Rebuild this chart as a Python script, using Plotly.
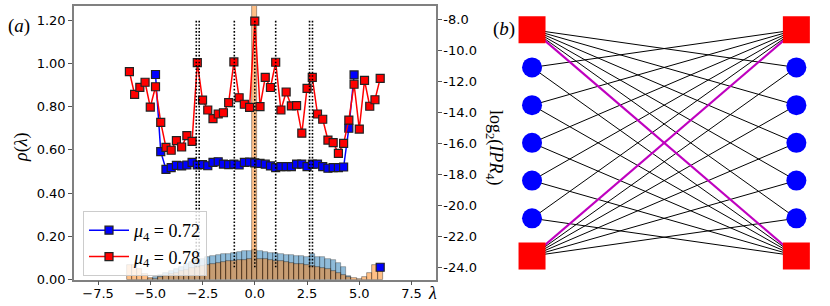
import plotly.graph_objects as go

# ---------------- data ----------------
lam = [-6.0, -5.75, -5.5, -5.25, -5.0, -4.75, -4.5, -4.25, -4.0, -3.75, -3.5, -3.25, -3.0,
       -2.75, -2.5, -2.25, -2.0, -1.75, -1.5, -1.25, -1.0, -0.75, -0.5, -0.25, 0.0,
       0.25, 0.5, 0.75, 1.0, 1.25, 1.5, 1.75, 2.0, 2.25, 2.5, 2.75, 3.0, 3.25, 3.5,
       3.75, 4.0, 4.25, 4.5, 4.75, 5.0, 5.25, 5.5, 5.75, 6.0]

# log2(IPR_4), mu4 = 0.72 (blue)
ipr_072 = [None, None, None, None, None, -11.56, -16.54, -17.68, -17.57, -17.42, -17.46, -17.40, -17.23,
           -17.40, -17.38, -17.45, -17.23, -17.19, -17.34, -17.38, -17.35, -17.40, -17.23, -17.21, -17.27,
           -17.29, -17.35, -17.46, -17.57, -17.51, -17.51, -17.51, -17.34, -17.34, -17.51, -17.34, -17.34,
           -17.51, -17.61, -17.57, -17.57, -17.53, -15.03, -11.59, None, None, None, None, -24.0]

# log2(IPR_4), mu4 = 0.78 (red)
ipr_078 = [-11.38, -12.84, -12.39, -12.06, -13.66, -12.35, -14.65, -16.26, -16.45, -15.83, -16.24, -15.51, -15.87,
           -10.80, -13.21, -13.85, -14.41, -14.11, -14.03, -13.38, -10.75, -13.06, -13.48, -13.68, -8.11,
           -13.63, -11.75, -12.40, -10.77, -13.85, -12.69, -13.59, -13.57, -15.35, -12.45, -11.74, -14.11,
           -14.45, -15.79, -15.96, -16.65, -16.00, -14.50, -12.19, -15.08, -11.94, -13.61, -13.19, -11.81]

# spectral densities rho(lambda)
rho_072 = [0.0, 0.0, 0.0, 0.0, 0.003, 0.010, 0.020, 0.030, 0.040, 0.050, 0.060, 0.070, 0.080,
           0.090, 0.097, 0.104, 0.109, 0.113, 0.117, 0.120, 0.125, 0.127, 0.130, 0.132, 0.135,
           0.133, 0.127, 0.125, 0.124, 0.118, 0.115, 0.112, 0.109, 0.109, 0.106, 0.117, 0.106,
           0.103, 0.093, 0.090, 0.075, 0.059, 0.016, 0.0, 0.0, 0.0, 0.0, 0.0, 0.0]

rho_078 = [0.068, 0.068, 0.050, 0.025, 0.006, 0.004, 0.010, 0.018, 0.025, 0.032, 0.040, 0.046, 0.052,
           0.058, 0.064, 0.068, 0.073, 0.077, 0.081, 0.084, 0.087, 0.090, 0.092, 0.094, 1.50,
           0.094, 0.093, 0.090, 0.088, 0.085, 0.082, 0.078, 0.074, 0.070, 0.066, 0.062, 0.058,
           0.054, 0.049, 0.040, 0.030, 0.020, 0.010, 0.005, 0.003, 0.012, 0.032, 0.066, 0.066]

bin_width = 0.25

vline_lam = [-2.80, -2.66, -0.98, 0.0, 1.0, 2.62, 2.76]
vline_span = [-24.0, -8.0]

x_ticks = [-7.5, -5.0, -2.5, 0.0, 2.5, 5.0, 7.5]
y_ticks = [0.0, 0.2, 0.4, 0.6, 0.8, 1.0, 1.2]
y2_ticks = [-24, -22, -20, -18, -16, -14, -12, -10, -8]
y2_ticklabels = ["-24.0", "-22.0", "-20.0", "-18.0", "-16.0", "-14.0", "-12.0", "-10.0", "-8.0"]

legend_labels = ["<i>μ</i><sub>4</sub> = 0.72", "<i>μ</i><sub>4</sub> = 0.78"]

# ---------------- network (panel b) ----------------
node_col = [0, 0, 0, 0, 0, 0, 0, 1, 1, 1, 1, 1, 1, 1]
node_row = [6, 5, 4, 3, 2, 1, 0, 6, 5, 4, 3, 2, 1, 0]
node_hub = [True, False, False, False, False, False, True,
            True, False, False, False, False, False, True]
black_edges = [(0, 8), (0, 9), (0, 10), (0, 11), (0, 12),
               (6, 8), (6, 9), (6, 10), (6, 11), (6, 12),
               (7, 1), (7, 2), (7, 3), (7, 4), (7, 5),
               (13, 1), (13, 2), (13, 3), (13, 4), (13, 5)]
magenta_edges = [(0, 13), (6, 7)]

W, H = 830, 306
SERIF = "Liberation Serif, DejaVu Serif, serif"
SANS = "DejaVu Sans, sans-serif"
AXC = "#808080"

fig = go.Figure()

# histograms
fig.add_trace(go.Bar(x=lam, y=rho_072, width=bin_width, xaxis="x", yaxis="y", showlegend=False,
                     marker=dict(color="rgba(31,119,180,0.5)", line=dict(color="rgba(0,0,0,0.4)", width=0.7))))
fig.add_trace(go.Bar(x=lam, y=rho_078, width=bin_width, xaxis="x", yaxis="y", showlegend=False,
                     marker=dict(color="rgba(255,127,14,0.5)", line=dict(color="rgba(0,0,0,0.5)", width=0.7))))

# IPR curves
fig.add_trace(go.Scatter(x=lam, y=ipr_072, mode="lines+markers", name=legend_labels[0],
                         xaxis="x", yaxis="y2", connectgaps=False,
                         line=dict(color="#0000ff", width=1.5),
                         marker=dict(symbol="square", size=8, color="#0000ff",
                                     line=dict(color="#222222", width=1.2))))
fig.add_trace(go.Scatter(x=lam, y=ipr_078, mode="lines+markers", name=legend_labels[1],
                         xaxis="x", yaxis="y2", connectgaps=False,
                         line=dict(color="#ff0000", width=1.5),
                         marker=dict(symbol="square", size=8, color="#ff0000",
                                     line=dict(color="#222222", width=1.2))))

# dotted vertical lines
vx, vy = [], []
for v in vline_lam:
    vx += [v, v, None]
    vy += [vline_span[0], vline_span[1], None]
fig.add_trace(go.Scatter(x=vx, y=vy, mode="lines", xaxis="x", yaxis="y2", showlegend=False,
                         line=dict(color="black", width=1.6, dash="1.6px,1.8px"), hoverinfo="skip"))

# network edges
ex, ey = [], []
for a, b in black_edges:
    ex += [node_col[a], node_col[b], None]
    ey += [node_row[a], node_row[b], None]
fig.add_trace(go.Scatter(x=ex, y=ey, mode="lines", xaxis="x3", yaxis="y3", showlegend=False,
                         line=dict(color="black", width=1.0), hoverinfo="skip"))
mx, my = [], []
for a, b in magenta_edges:
    mx += [node_col[a], node_col[b], None]
    my += [node_row[a], node_row[b], None]
fig.add_trace(go.Scatter(x=mx, y=my, mode="lines", xaxis="x3", yaxis="y3", showlegend=False,
                         line=dict(color="#bf00bf", width=2.2), hoverinfo="skip"))
fig.add_trace(go.Scatter(x=[c for c, h in zip(node_col, node_hub) if not h],
                         y=[r for r, h in zip(node_row, node_hub) if not h],
                         mode="markers", xaxis="x3", yaxis="y3", showlegend=False,
                         marker=dict(symbol="circle", size=20, color="#0000ff", line=dict(width=0))))
fig.add_trace(go.Scatter(x=[c for c, h in zip(node_col, node_hub) if h],
                         y=[r for r, h in zip(node_row, node_hub) if h],
                         mode="markers", xaxis="x3", yaxis="y3", showlegend=False,
                         marker=dict(symbol="square", size=27, color="#ff0000", line=dict(width=0))))

def px_x(p):
    return p / W

def px_y(p):
    return (H - p) / H

common_tick = dict(ticks="outside", ticklen=4, tickwidth=1, tickcolor="#555555",
                   tickfont=dict(family=SANS, size=13, color="black"),
                   showgrid=False, zeroline=False, automargin=False)

def note(text, x, y, size, angle=0):
    return dict(text=text, x=px_x(x), y=px_y(y), xref="paper", yref="paper",
                xanchor="center", yanchor="middle", showarrow=False, textangle=angle,
                font=dict(family=SERIF, size=size, color="black"))

fig.update_layout(
    width=W, height=H, autosize=False,
    margin=dict(l=0, r=0, t=0, b=0),
    paper_bgcolor="white", plot_bgcolor="white",
    barmode="overlay", bargap=0,
    xaxis=dict(domain=[px_x(74), px_x(436)], range=[-8.65, 8.67], anchor="y",
               tickvals=x_ticks, tickformat=".1f", ticklabelstandoff=-3,
               showline=True, mirror=True, linecolor=AXC, linewidth=1.5, **common_tick),
    yaxis=dict(domain=[px_y(279.5), px_y(6)], range=[0, 1.2665], anchor="x",
               tickvals=y_ticks, tickformat=".2f",
               showline=True, linecolor=AXC, linewidth=1.5, **common_tick),
    yaxis2=dict(overlaying="y", side="right", anchor="x", range=[-24.79, -7.14],
                tickvals=y2_ticks, ticktext=y2_ticklabels, ticklabelstandoff=-1,
                showline=True, linecolor=AXC, linewidth=1.5, **common_tick),
    xaxis3=dict(domain=[px_x(505.6), px_x(822.8)], range=[-0.1, 1.1], anchor="y3",
                visible=False, showgrid=False, zeroline=False, automargin=False),
    yaxis3=dict(domain=[px_y(274.9), px_y(10.84)], range=[-0.5, 6.5], anchor="x3",
                visible=False, showgrid=False, zeroline=False, automargin=False),
    legend=dict(x=px_x(83), y=px_y(211), xanchor="left", yanchor="top",
                bgcolor="rgba(255,255,255,0.8)", bordercolor="#cccccc", borderwidth=1,
                font=dict(family=SERIF, size=18, color="black"), itemwidth=40,
                tracegroupgap=0),
    annotations=[
        note("(<i>a</i>)", 19, 26, 19),
        note("<i>ρ</i>(<i>λ</i>)", 22, 148, 18, -90),
        note("log<sub>2</sub>(<i>IPR</i><sub>4</sub>)", 494, 148, 18, 90),
        note("<i>λ</i>", 432, 293, 18),
        note("(<i>b</i>)", 504, 29, 19),
    ],
)

fig.write_html("out.html",
               config={"displayModeBar": False},
               post_script="document.body.style.margin='0px';")
